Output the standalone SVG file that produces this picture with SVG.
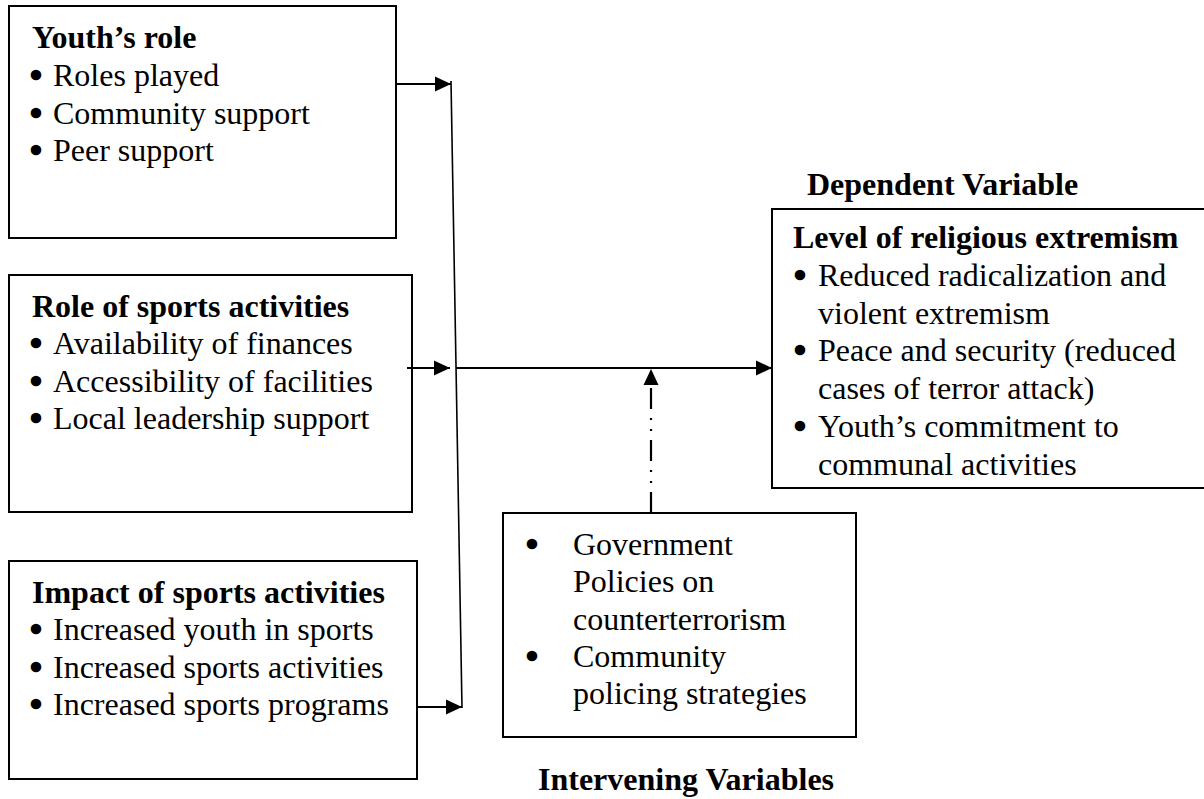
<svg xmlns="http://www.w3.org/2000/svg" width="1204" height="799" viewBox="0 0 1204 799">
<style>
  .box { fill: #ffffff; stroke: #000000; stroke-width: 2; }
  text { font-family: "Liberation Serif", "Times New Roman", serif; font-size: 32px; fill: #000000; }
  .h { font-weight: bold; }
  .b { font-size: 34px; stroke: #000000; stroke-width: 2.4; }
  .conn { fill: none; stroke: #000000; stroke-width: 2; }
  .thin { fill: none; stroke: #000000; stroke-width: 1.6; }
  .dd { fill: none; stroke: #000000; stroke-width: 2.2; stroke-dasharray: 21 9 2 9 2 9; }
</style>
<defs>
  <marker id="ah" markerUnits="userSpaceOnUse" markerWidth="17" markerHeight="17" refX="16" refY="8" orient="auto">
    <path d="M0,0.5 L16,8 L0,15.5 z" fill="#000000"/>
  </marker>
</defs>
<rect width="1204" height="799" fill="#ffffff"/>

<g id="youth-role">
  <rect class="box" x="9" y="6" width="387" height="232"/>
  <text class="h" x="32" y="47.5">Youth’s role</text>
  <text x="30" y="86"><tspan class="b" dy="1">•</tspan><tspan x="53" dy="-1">Roles played</tspan></text>
  <text x="30" y="123.5"><tspan class="b" dy="1">•</tspan><tspan x="53" dy="-1">Community support</tspan></text>
  <text x="30" y="161"><tspan class="b" dy="1">•</tspan><tspan x="53" dy="-1">Peer support</tspan></text>
</g>

<g id="role-sports">
  <rect class="box" x="9" y="275" width="403" height="237"/>
  <text class="h" x="32" y="316.5">Role of sports activities</text>
  <text x="30" y="354"><tspan class="b" dy="1">•</tspan><tspan x="53" dy="-1">Availability of finances</tspan></text>
  <text x="30" y="391.5"><tspan class="b" dy="1">•</tspan><tspan x="53" dy="-1">Accessibility of facilities</tspan></text>
  <text x="30" y="429"><tspan class="b" dy="1">•</tspan><tspan x="53" dy="-1">Local leadership support</tspan></text>
</g>

<g id="impact-sports">
  <rect class="box" x="9" y="561" width="408" height="218"/>
  <text class="h" x="32" y="602.5">Impact of sports activities</text>
  <text x="30" y="640"><tspan class="b" dy="1">•</tspan><tspan x="53" dy="-1">Increased youth in sports</tspan></text>
  <text x="30" y="677.5"><tspan class="b" dy="1">•</tspan><tspan x="53" dy="-1">Increased sports activities</tspan></text>
  <text x="30" y="715"><tspan class="b" dy="1">•</tspan><tspan x="53" dy="-1">Increased sports programs</tspan></text>
</g>

<g id="dependent">
  <text class="h" x="807" y="195">Dependent Variable</text>
  <rect class="box" x="772" y="209" width="440" height="279"/>
  <text class="h" x="793" y="248">Level of religious extremism</text>
  <text x="794" y="286"><tspan class="b" dy="1">•</tspan><tspan x="818" dy="-1">Reduced radicalization and</tspan></text>
  <text x="818" y="323.5">violent extremism</text>
  <text x="794" y="361"><tspan class="b" dy="1">•</tspan><tspan x="818" dy="-1">Peace and security (reduced</tspan></text>
  <text x="818" y="399">cases of terror attack)</text>
  <text x="794" y="437"><tspan class="b" dy="1">•</tspan><tspan x="818" dy="-1">Youth’s commitment to</tspan></text>
  <text x="818" y="474.5">communal activities</text>
</g>

<g id="intervening">
  <rect class="box" x="503" y="513" width="353" height="224"/>
  <text x="526" y="555"><tspan class="b" dy="1">•</tspan><tspan x="573" dy="-1">Government</tspan></text>
  <text x="573" y="592">Policies on</text>
  <text x="573" y="629.5">counterterrorism</text>
  <text x="526" y="667"><tspan class="b" dy="1">•</tspan><tspan x="573" dy="-1">Community</tspan></text>
  <text x="573" y="704">policing strategies</text>
  <text class="h" x="538" y="790">Intervening Variables</text>
</g>

<g id="connectors">
  <path class="thin" d="M451,81 L462,708"/>
  <path class="conn" d="M396,84 L451,84" marker-end="url(#ah)"/>
  <path class="conn" d="M407,368 L450,368" marker-end="url(#ah)"/>
  <path class="conn" d="M417,707 L462,707" marker-end="url(#ah)"/>
  <path class="conn" d="M456,368 L772,368" marker-end="url(#ah)"/>
  <path class="dd" d="M651,513 L651,369" marker-end="url(#ah)"/>
</g>
</svg>
